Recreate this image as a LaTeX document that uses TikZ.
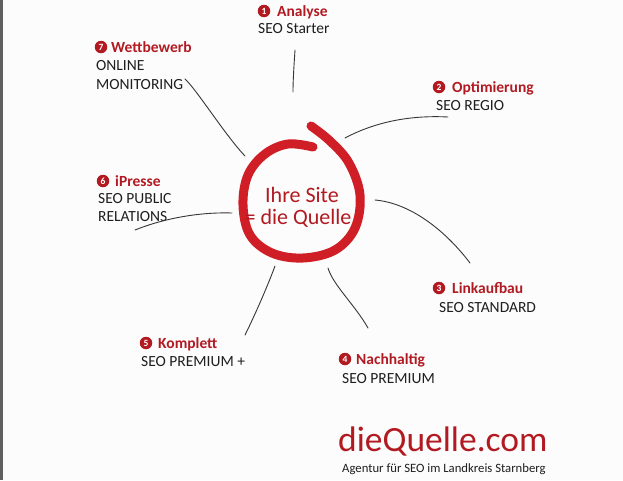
\documentclass[tikz,border=0pt]{standalone}
\usepackage{fontspec}
\setmainfont{Carlito}
\definecolor{qred}{RGB}{178,26,34}
\definecolor{loopred}{RGB}{208,30,38}
\definecolor{txt}{RGB}{30,30,30}
\definecolor{conn}{RGB}{55,55,55}
\definecolor{bg}{RGB}{252,252,252}
\definecolor{barc}{RGB}{95,95,95}
\begin{document}
\begin{tikzpicture}[x=1pt,y=-1pt,
  bullet/.style={circle,fill=qred,text=white,inner sep=0pt,minimum size=12.5pt,font=\fontsize{9.5}{9.5}\selectfont\bfseries},
  title/.style={anchor=base west,inner sep=0pt,text=qred,font=\fontsize{15.5}{18}\selectfont\bfseries},
  sub/.style={anchor=base west,inner sep=0pt,text=txt,font=\fontsize{15.5}{18}\selectfont},
  connector/.style={draw=conn,line width=0.9pt,line cap=round},
  center/.style={anchor=base,inner sep=0pt,text=qred,font=\fontsize{22}{24}\selectfont},
]
\useasboundingbox (0,0) rectangle (623,480);
\fill[bg] (0,0) rectangle (623,480);
\fill[barc] (0,0) rectangle (3,480);

% central loop
\draw[loopred,line width=9pt,line cap=round,line join=round]
  plot[smooth,tension=0.6] coordinates {(311,126) (330,141) (349,163) (360,195) (355,228) (335,250) (303,258) (272,253) (250,235) (243,205) (248,175) (265,154) (288,144) (313,147)};
\node[center] (c1) at (302,202) {Ihre Site};
\node[center] (c2) at (298,224) {= die Quelle};

% 1 Analyse
\node[bullet] (b1) at (264,11) {1};
\node[title] (t1) at (277,16) {Analyse};
\node[sub] (s1) at (258,33) {SEO Starter};
% 2 Optimierung
\node[bullet] (b2) at (439,87) {2};
\node[title] (t2) at (452,92) {Optimierung};
\node[sub] (s2) at (436,110) {SEO REGIO};
% 3 Linkaufbau
\node[bullet] (b3) at (439,288) {3};
\node[title] (t3) at (452,293) {Linkaufbau};
\node[sub] (s3) at (439,312) {SEO STANDARD};
% 4 Nachhaltig
\node[bullet] (b4) at (345,359) {4};
\node[title] (t4) at (356,364) {Nachhaltig};
\node[sub] (s4) at (342,383) {SEO PREMIUM};
% 5 Komplett
\node[bullet] (b5) at (146,343) {5};
\node[title] (t5) at (158,348) {Komplett};
\node[sub] (s5) at (141,366) {SEO PREMIUM +};
% 6 iPresse
\node[bullet] (b6) at (103,181) {6};
\node[title] (t6) at (115,186) {iPresse};
\node[sub] (s6a) at (98,203) {SEO PUBLIC};
\node[sub] (s6b) at (98,221) {RELATIONS};
% 7 Wettbewerb
\node[bullet] (b7) at (101,47) {7};
\node[title] (t7) at (111,52) {Wettbewerb};
\node[sub] (s7a) at (96,70) {ONLINE};
\node[sub] (s7b) at (96,89) {MONITORING};

% connector ends
\coordinate (a1) at (295,50);  \coordinate (e1) at (293,92);
\coordinate (a2) at (448,117); \coordinate (e2) at (345,138);
\coordinate (a3) at (470,263); \coordinate (e3) at (375,200);
\coordinate (a4) at (368,328); \coordinate (e4) at (328,268);
\coordinate (a5) at (245,335); \coordinate (e5) at (275,266);
\coordinate (a6) at (135,230); \coordinate (e6) at (232,213);
\coordinate (a7) at (185,79);  \coordinate (e7) at (245,156);

\draw[connector] (a1) .. controls (294,65) and (293,80) .. (e1);
\draw[connector] (a2) .. controls (410,115) and (375,122) .. (e2);
\draw[connector] (a3) .. controls (445,230) and (410,203) .. (e3);
\draw[connector] (a4) .. controls (355,305) and (333,285) .. (e4);
\draw[connector] (a5) .. controls (255,315) and (268,285) .. (e5);
\draw[connector] (a6) .. controls (165,218) and (200,212) .. (e6);
\draw[connector] (a7) .. controls (197,90) and (225,135) .. (e7);

% footer
\node[anchor=base west,inner sep=0pt,text=qred,font=\fontsize{35.5}{38}\selectfont] (logo) at (338,451) {dieQuelle.com};
\node[anchor=base west,inner sep=0pt,text=txt,font=\fontsize{12.7}{14}\selectfont] (tag) at (342,472) {Agentur für SEO im Landkreis Starnberg};
\end{tikzpicture}
\end{document}
